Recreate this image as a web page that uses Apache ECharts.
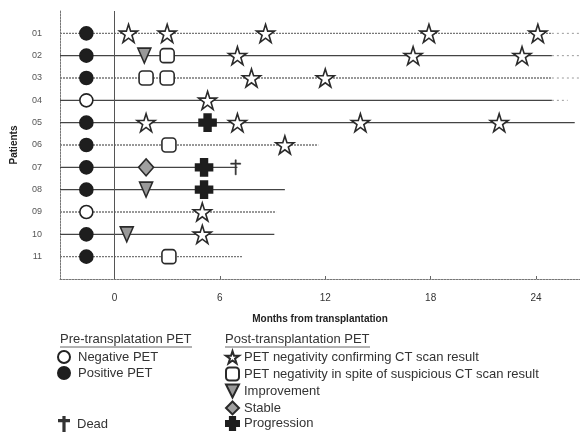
<!DOCTYPE html>
<html>
<head>
<meta charset="utf-8">
<script src="https://cdn.jsdelivr.net/npm/echarts@6/dist/echarts.min.js"></script>
<style>
html,body{margin:0;padding:0;background:#fff;}
#chart{width:580px;height:432px;}
</style>
</head>
<body>
<div id="chart"></div>
<script>
// patients (row 1..11, top to bottom)
var patients = ['01','02','03','04','05','06','07','08','09','10','11'];
// pre-transplantation PET
var preMonth = -1.6;
var preNegative = [4, 9];
var prePositive = [1, 2, 3, 5, 6, 7, 8, 10, 11];
// follow-up lines: end month, solid or dotted, faint ongoing part
var followEnd = [24.9, 24.9, 24.9, 24.9, 26.2, 11.6, 7.0, 9.7, 9.2, 9.1, 7.3];
var followSolid = [false, true, false, true, true, false, true, true, false, true, false];
var ongoingEnd = [26.5, 26.5, 26.5, 25.8, null, null, null, null, null, null, null];
// post-transplantation PET  [month, patient]
var confirmCT = [[0.8,1],[3.0,1],[8.6,1],[17.9,1],[24.1,1],[7.0,2],[17.0,2],[23.2,2],[7.8,3],[12.0,3],
                 [5.3,4],[1.8,5],[7.0,5],[14.0,5],[21.9,5],[9.7,6],[5.0,9],[5.0,10]];
var suspiciousCT = [[3.0,2],[1.8,3],[3.0,3],[3.1,6],[3.1,11]];
var improvement = [[1.7,2],[1.8,8],[0.7,10]];
var stable = [[1.8,7]];
var progression = [[5.3,5],[5.1,7],[5.1,8]];
var dead = [[6.9,7]];
var monthTicks = [0, 6, 12, 18, 24];

var starPath = 'path://M50,2 L61,36 L97,36 L68,57 L79,92 L50,71 L21,92 L32,57 L3,36 L39,36 Z';
var triPath = 'path://M0,0 L10,0 L5,10 Z';
var progPath = 'path://M3,0 L7,0 L7,3 L10,3 L10,7 L7,7 L7,10 L3,10 L3,7 L0,7 L0,3 L3,3 Z';
var crossPath = 'path://M4.4,0 L5.6,0 L5.6,3 L10,3 L10,4.2 L5.6,4.2 L5.6,14 L4.4,14 L4.4,4.2 L0,4.2 L0,3 L4.4,3 Z';

var X_MIN = -3.1, X_MAX = 26.5;
var chart = echarts.init(document.getElementById('chart'));
var series = [];

// follow-up lines
for (var i = 0; i < patients.length; i++) {
    var s = {
        type: 'line', z: 1, silent: true, showSymbol: false, animation: false,
        data: [[X_MIN, i + 1], [followEnd[i], i + 1]],
        lineStyle: followSolid[i]
            ? {color: '#444', width: 1.3, type: 'solid'}
            : {color: '#777', width: 1.3, type: [2, 1]}
    };
    if (i === 0) {
        s.markLine = {
            symbol: 'none', silent: true, animation: false, label: {show: false},
            lineStyle: {color: '#555', width: 1, type: 'solid'},
            data: [{xAxis: 0}]
        };
    }
    series.push(s);
    if (ongoingEnd[i] != null) {
        series.push({
            type: 'line', z: 1, silent: true, showSymbol: false, animation: false,
            data: [[followEnd[i], i + 1], [ongoingEnd[i], i + 1]],
            lineStyle: {color: '#999', width: 1, type: [2, 3]}
        });
    }
}

function scatter(name, data, symbol, size, fill, border) {
    return {
        name: name, type: 'scatter', z: 3, animation: false,
        data: data, symbol: symbol, symbolSize: size,
        itemStyle: {color: fill, borderColor: border, borderWidth: 1.6, opacity: 1}
    };
}

series.push(scatter('Negative PET', preNegative.map(function (p) { return [preMonth, p]; }), 'circle', 13, '#fff', '#222'));
series.push(scatter('Positive PET', prePositive.map(function (p) { return [preMonth, p]; }), 'circle', 13, '#1e1e1e', '#1e1e1e'));
series.push(scatter('PET negativity confirming CT scan result', confirmCT, starPath, 18, '#fff', '#2a2a2a'));
series.push(scatter('PET negativity in spite of suspicious CT scan result', suspiciousCT, 'roundRect', 14, '#fff', '#2a2a2a'));
series.push(scatter('Improvement', improvement, triPath, [13, 15], '#999', '#2a2a2a'));
series.push(scatter('Stable', stable, 'diamond', [15, 17], '#a0a0a0', '#2a2a2a'));
series.push(scatter('Progression', progression, progPath, 17, '#1e1e1e', '#1e1e1e'));
series.push(scatter('Dead', dead, crossPath, [10, 15], '#333', '#333'));
series[series.length - 1].itemStyle.borderWidth = 0.5;

var legendText = {fontFamily: 'Liberation Sans', fontSize: 13, lineHeight: 14, color: '#333', padding: [0, 0, 0, 3]};
var legendText2 = {fontFamily: 'Liberation Sans', fontSize: 13, lineHeight: 14, color: '#333', padding: [0, 0, 0, 0]};

var option = {
    backgroundColor: '#fff',
    animation: false,
    textStyle: {fontFamily: 'Liberation Sans'},
    grid: {left: 60, right: 0, top: 11, bottom: 153, outerBoundsMode: 'none', containLabel: false},
    xAxis: {
        type: 'value', min: X_MIN, max: X_MAX, position: 'bottom',
        name: 'Months from transplantation', nameLocation: 'middle', nameGap: 35,
        nameTextStyle: {fontSize: 10, fontWeight: 'bold', color: '#222'},
        splitLine: {show: false},
        axisLine: {onZero: false, lineStyle: {color: '#777', type: [2, 1], width: 1}},
        axisTick: {inside: true, length: 3, customValues: [6, 12, 18, 24], lineStyle: {color: '#666'}},
        axisLabel: {customValues: monthTicks, fontSize: 10, color: '#333', margin: 14}
    },
    yAxis: {
        type: 'value', min: 0, max: 12, inverse: true,
        name: 'Patients', nameLocation: 'middle', nameGap: 41, nameRotate: 90,
        nameTextStyle: {fontSize: 10, fontWeight: 'bold', color: '#222'},
        splitLine: {show: false},
        axisLine: {onZero: false, lineStyle: {color: '#777', type: [2, 1], width: 1}},
        axisTick: {show: false},
        axisLabel: {
            customValues: [1, 2, 3, 4, 5, 6, 7, 8, 9, 10, 11],
            fontSize: 9, color: '#555', margin: 18,
            formatter: function (v) { return patients[v - 1]; }
        }
    },
    legend: [
        {data: ['Negative PET', 'Positive PET'], orient: 'vertical', left: 57, top: 350, padding: 0,
         itemWidth: 12, itemHeight: 12, itemGap: 2, textStyle: legendText, selectedMode: false},
        {data: ['Dead'], orient: 'vertical', left: 58, top: 416, padding: 0,
         itemWidth: 10, itemHeight: 14, itemGap: 2, textStyle: legendText, selectedMode: false},
        {data: ['PET negativity confirming CT scan result', 'PET negativity in spite of suspicious CT scan result',
                'Improvement', 'Stable'],
         orient: 'vertical', left: 225, top: 350, padding: 0,
         itemWidth: 13, itemHeight: 13, itemGap: 2, textStyle: legendText2, selectedMode: false},
        {data: ['Progression'], orient: 'vertical', left: 225, top: 416, padding: 0,
         itemWidth: 13, itemHeight: 13, itemGap: 2, textStyle: legendText2, selectedMode: false}
    ],
    graphic: [
        {type: 'text', left: 60, top: 333, style: {text: 'Pre-transplatation PET', fill: '#333', font: '13px "Liberation Sans"'}},
        {type: 'line', shape: {x1: 60, y1: 347, x2: 192, y2: 347}, style: {stroke: '#666', lineWidth: 1}},
        {type: 'text', left: 225, top: 333, style: {text: 'Post-transplantation PET', fill: '#333', font: '13px "Liberation Sans"'}},
        {type: 'line', shape: {x1: 225, y1: 347, x2: 370, y2: 347}, style: {stroke: '#666', lineWidth: 1}}
    ],
    series: series
};
chart.setOption(option);
</script>
</body>
</html>
